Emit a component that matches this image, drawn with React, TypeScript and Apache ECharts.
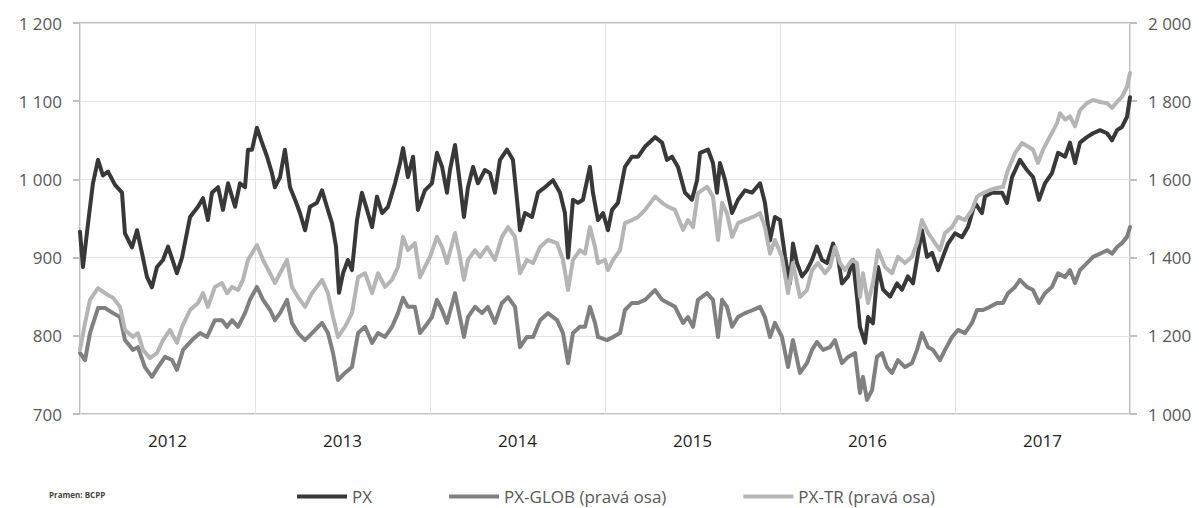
import React, { useEffect, useRef } from 'react';
import * as echarts from 'echarts';

// x = years elapsed since 1 Jan 2012 (0..6)
const YEARS = ['2012', '2013', '2014', '2015', '2016', '2017'];
const LEFT_TICKS = { min: 700, max: 1200, step: 100 };
const RIGHT_TICKS = { min: 1000, max: 2000, step: 200 };
const NAMES = ['PX', 'PX-GLOB (pravá osa)', 'PX-TR (pravá osa)'];
const SOURCE = 'Pramen: BCPP';

const PX: [number, number][] = [
  [0.000, 933], [0.017, 888], [0.046, 944], [0.074, 995], [0.103, 1025], [0.131, 1005], [0.160, 1010],
  [0.200, 993], [0.240, 983], [0.257, 931], [0.297, 913], [0.326, 935], [0.354, 906], [0.383, 875],
  [0.411, 862], [0.440, 888], [0.474, 897], [0.503, 914], [0.554, 880], [0.583, 900], [0.629, 952],
  [0.674, 965], [0.703, 976], [0.731, 948], [0.754, 983], [0.789, 990], [0.817, 961], [0.846, 995],
  [0.886, 965], [0.914, 995], [0.943, 990], [0.960, 1038], [0.983, 1038], [1.011, 1066], [1.040, 1047],
  [1.069, 1029], [1.097, 1008], [1.114, 990], [1.143, 1003], [1.171, 1038], [1.200, 990], [1.229, 974],
  [1.257, 957], [1.286, 935], [1.314, 965], [1.354, 970], [1.383, 986], [1.411, 965], [1.440, 944],
  [1.463, 914], [1.480, 855], [1.503, 880], [1.531, 897], [1.554, 884], [1.583, 948], [1.611, 983],
  [1.640, 961], [1.669, 939], [1.697, 978], [1.726, 957], [1.760, 965], [1.800, 995], [1.829, 1021],
  [1.846, 1040], [1.874, 1003], [1.903, 1029], [1.931, 961], [1.971, 986], [2.011, 995], [2.040, 1034],
  [2.069, 1016], [2.097, 983], [2.114, 1012], [2.143, 1044], [2.171, 995], [2.194, 952], [2.217, 990],
  [2.246, 1016], [2.274, 995], [2.314, 1012], [2.343, 1008], [2.371, 983], [2.400, 1025], [2.440, 1038],
  [2.474, 1025], [2.503, 961], [2.514, 935], [2.543, 957], [2.583, 952], [2.617, 983], [2.657, 990],
  [2.703, 999], [2.743, 983], [2.771, 957], [2.789, 900], [2.817, 974], [2.846, 970], [2.874, 974],
  [2.914, 1016], [2.931, 983], [2.960, 948], [2.989, 957], [3.017, 935], [3.040, 961], [3.074, 970],
  [3.114, 1016], [3.154, 1029], [3.189, 1029], [3.229, 1042], [3.286, 1054], [3.326, 1047], [3.354, 1025],
  [3.383, 1029], [3.417, 1016], [3.457, 983], [3.497, 974], [3.526, 999], [3.543, 1034], [3.589, 1038],
  [3.617, 1021], [3.640, 983], [3.657, 1021], [3.686, 999], [3.726, 957], [3.760, 974], [3.800, 986],
  [3.840, 983], [3.886, 995], [3.914, 970], [3.943, 922], [3.971, 952], [4.000, 948], [4.029, 901],
  [4.057, 867], [4.074, 918], [4.097, 893], [4.126, 876], [4.154, 884], [4.183, 897], [4.211, 914],
  [4.240, 897], [4.269, 893], [4.303, 918], [4.331, 901], [4.354, 867], [4.389, 876], [4.417, 897],
  [4.440, 850], [4.457, 811], [4.486, 791], [4.503, 824], [4.531, 816], [4.560, 888], [4.589, 859],
  [4.629, 850], [4.669, 867], [4.697, 859], [4.731, 876], [4.760, 867], [4.811, 935], [4.840, 901],
  [4.869, 906], [4.903, 884], [4.931, 901], [4.960, 918], [5.000, 931], [5.040, 926], [5.074, 939],
  [5.114, 970], [5.154, 957], [5.171, 978], [5.211, 983], [5.269, 983], [5.297, 970], [5.326, 1003],
  [5.371, 1025], [5.411, 1012], [5.446, 1003], [5.480, 974], [5.514, 995], [5.554, 1008], [5.589, 1034],
  [5.629, 1029], [5.657, 1047], [5.686, 1021], [5.714, 1047], [5.754, 1054], [5.789, 1059], [5.829, 1063],
  [5.869, 1059], [5.897, 1050], [5.926, 1063], [5.954, 1067], [5.983, 1080], [6.000, 1105],
];

const PX_GLOB: [number, number][] = [
  [0.000, 1156], [0.029, 1138], [0.057, 1207], [0.103, 1271], [0.143, 1271], [0.189, 1258], [0.229, 1248],
  [0.257, 1189], [0.303, 1164], [0.331, 1171], [0.371, 1120], [0.411, 1095], [0.446, 1120], [0.486, 1146],
  [0.526, 1138], [0.554, 1113], [0.589, 1164], [0.640, 1189], [0.686, 1207], [0.726, 1197], [0.771, 1240],
  [0.811, 1240], [0.840, 1223], [0.869, 1240], [0.903, 1223], [0.943, 1258], [0.971, 1292], [1.011, 1325],
  [1.046, 1292], [1.086, 1266], [1.114, 1240], [1.143, 1258], [1.183, 1292], [1.211, 1233], [1.246, 1207],
  [1.286, 1189], [1.326, 1207], [1.383, 1233], [1.417, 1207], [1.446, 1156], [1.474, 1087], [1.514, 1105],
  [1.554, 1120], [1.589, 1207], [1.629, 1223], [1.669, 1182], [1.703, 1207], [1.743, 1197], [1.783, 1223],
  [1.817, 1258], [1.846, 1297], [1.874, 1274], [1.914, 1274], [1.943, 1207], [1.971, 1223], [2.011, 1248],
  [2.040, 1292], [2.069, 1266], [2.097, 1233], [2.143, 1309], [2.171, 1248], [2.194, 1197], [2.217, 1248],
  [2.257, 1274], [2.297, 1258], [2.331, 1274], [2.371, 1233], [2.411, 1284], [2.446, 1299], [2.486, 1274],
  [2.514, 1171], [2.554, 1197], [2.589, 1197], [2.629, 1240], [2.674, 1258], [2.726, 1240], [2.760, 1207],
  [2.789, 1130], [2.817, 1207], [2.857, 1223], [2.886, 1223], [2.914, 1274], [2.943, 1233], [2.960, 1197],
  [3.011, 1189], [3.046, 1197], [3.086, 1207], [3.114, 1266], [3.154, 1284], [3.189, 1284], [3.229, 1292],
  [3.286, 1317], [3.326, 1292], [3.360, 1284], [3.400, 1274], [3.446, 1233], [3.474, 1248], [3.503, 1223],
  [3.531, 1292], [3.583, 1309], [3.617, 1292], [3.646, 1197], [3.669, 1292], [3.697, 1274], [3.726, 1223],
  [3.760, 1248], [3.800, 1258], [3.846, 1266], [3.886, 1274], [3.914, 1248], [3.943, 1197], [3.971, 1233],
  [4.011, 1197], [4.046, 1120], [4.074, 1189], [4.114, 1105], [4.154, 1130], [4.183, 1164], [4.211, 1184],
  [4.246, 1164], [4.286, 1171], [4.314, 1189], [4.354, 1130], [4.389, 1146], [4.429, 1156], [4.457, 1054],
  [4.474, 1095], [4.497, 1036], [4.526, 1061], [4.554, 1146], [4.583, 1156], [4.611, 1120], [4.640, 1105],
  [4.674, 1138], [4.714, 1120], [4.754, 1130], [4.783, 1164], [4.811, 1207], [4.846, 1171], [4.874, 1164],
  [4.914, 1138], [4.943, 1164], [4.983, 1197], [5.017, 1215], [5.057, 1207], [5.097, 1233], [5.126, 1266],
  [5.160, 1266], [5.200, 1274], [5.240, 1284], [5.274, 1284], [5.303, 1309], [5.343, 1325], [5.371, 1343],
  [5.411, 1325], [5.446, 1317], [5.480, 1284], [5.514, 1309], [5.554, 1325], [5.589, 1360], [5.629, 1350],
  [5.657, 1368], [5.686, 1335], [5.714, 1368], [5.754, 1386], [5.789, 1402], [5.829, 1410], [5.869, 1419],
  [5.897, 1410], [5.926, 1427], [5.954, 1437], [5.983, 1453], [6.000, 1478],
];

const PX_TR: [number, number][] = [
  [0.000, 1164], [0.029, 1233], [0.057, 1292], [0.103, 1322], [0.143, 1309], [0.189, 1297], [0.229, 1274],
  [0.257, 1215], [0.303, 1197], [0.331, 1207], [0.360, 1164], [0.400, 1143], [0.440, 1156], [0.474, 1189],
  [0.514, 1215], [0.554, 1182], [0.583, 1223], [0.629, 1266], [0.674, 1284], [0.703, 1309], [0.731, 1274],
  [0.771, 1325], [0.811, 1335], [0.840, 1309], [0.869, 1325], [0.903, 1317], [0.931, 1343], [0.960, 1394],
  [1.011, 1432], [1.046, 1394], [1.086, 1360], [1.114, 1335], [1.143, 1360], [1.183, 1394], [1.211, 1325],
  [1.246, 1299], [1.286, 1274], [1.326, 1309], [1.383, 1343], [1.417, 1309], [1.446, 1248], [1.474, 1197],
  [1.514, 1223], [1.554, 1258], [1.589, 1350], [1.629, 1360], [1.669, 1309], [1.703, 1360], [1.743, 1325],
  [1.783, 1343], [1.817, 1376], [1.846, 1453], [1.874, 1419], [1.914, 1437], [1.943, 1350], [1.971, 1376],
  [2.000, 1402], [2.040, 1453], [2.069, 1427], [2.097, 1386], [2.143, 1463], [2.171, 1402], [2.194, 1343],
  [2.217, 1394], [2.257, 1419], [2.286, 1402], [2.326, 1427], [2.371, 1394], [2.411, 1453], [2.446, 1478],
  [2.486, 1453], [2.514, 1360], [2.554, 1394], [2.589, 1386], [2.629, 1427], [2.674, 1445], [2.726, 1437],
  [2.760, 1394], [2.789, 1317], [2.817, 1394], [2.857, 1419], [2.886, 1410], [2.914, 1478], [2.943, 1427],
  [2.960, 1386], [3.000, 1394], [3.017, 1368], [3.046, 1394], [3.086, 1419], [3.114, 1488], [3.154, 1496],
  [3.189, 1504], [3.229, 1522], [3.286, 1556], [3.326, 1540], [3.360, 1530], [3.400, 1522], [3.446, 1471],
  [3.474, 1496], [3.503, 1478], [3.531, 1565], [3.583, 1581], [3.617, 1556], [3.646, 1445], [3.669, 1540],
  [3.697, 1514], [3.726, 1453], [3.760, 1488], [3.800, 1496], [3.846, 1504], [3.886, 1514], [3.914, 1478],
  [3.943, 1410], [3.971, 1445], [4.011, 1402], [4.046, 1309], [4.074, 1386], [4.114, 1299], [4.154, 1317],
  [4.183, 1368], [4.217, 1386], [4.257, 1360], [4.286, 1376], [4.314, 1427], [4.343, 1386], [4.371, 1368],
  [4.411, 1394], [4.440, 1386], [4.457, 1299], [4.474, 1360], [4.503, 1284], [4.531, 1335], [4.560, 1419],
  [4.600, 1376], [4.640, 1360], [4.674, 1402], [4.714, 1386], [4.754, 1402], [4.783, 1437], [4.811, 1496],
  [4.846, 1463], [4.886, 1437], [4.914, 1419], [4.943, 1463], [4.983, 1478], [5.017, 1504], [5.057, 1496],
  [5.097, 1522], [5.126, 1556], [5.160, 1565], [5.200, 1573], [5.240, 1578], [5.274, 1581], [5.303, 1624],
  [5.343, 1667], [5.383, 1693], [5.417, 1684], [5.446, 1676], [5.474, 1642], [5.503, 1676], [5.543, 1710],
  [5.583, 1744], [5.600, 1769], [5.629, 1753], [5.657, 1761], [5.686, 1736], [5.714, 1777], [5.754, 1795],
  [5.789, 1803], [5.829, 1798], [5.869, 1795], [5.897, 1783], [5.926, 1798], [5.954, 1811], [5.983, 1837],
  [6.000, 1872],
];

const COLORS = ['#383838', '#808080', '#b5b5b5'];
const FONT = '"Open Sans", "Noto Sans", sans-serif';

const fmt = (v: number) =>
  v >= 1000 ? `${Math.floor(v / 1000)} ${String(v % 1000).padStart(3, '0')}` : String(v);

export default function App() {
  const ref = useRef<HTMLDivElement>(null);
  useEffect(() => {
    const chart = echarts.init(ref.current!, null, { renderer: 'svg' });
    const tickStyle = { show: true, length: 7, lineStyle: { color: '#bfbfbf', width: 2 } };
    chart.setOption({
      animation: false,
      backgroundColor: '#ffffff',
      textStyle: { fontFamily: FONT },
      grid: {
        left: 80, right: 69, top: 23, bottom: 94,
        show: true, borderColor: '#bfbfbf', borderWidth: 2, backgroundColor: 'transparent',
      },
      legend: {
        data: NAMES,
        left: 292, top: 483,
        icon: 'rect', itemWidth: 50, itemHeight: 4, itemGap: 77,
        textStyle: { color: '#595959', fontSize: 17, fontFamily: FONT },
      },
      graphic: [
        {
          type: 'text', left: 49, top: 490,
          style: { text: SOURCE, fill: '#444', fontSize: 8, fontWeight: 'bold', fontFamily: FONT },
        },
      ],
      xAxis: [
        {
          type: 'value', min: 0, max: 6, interval: 1,
          axisLine: { show: false }, axisTick: { show: false }, axisLabel: { show: false },
          splitLine: { show: true, lineStyle: { color: '#e4e4e4', width: 1 } },
        },
        {
          type: 'category', data: YEARS, position: 'bottom', boundaryGap: true,
          axisLine: { show: false }, axisTick: { show: false }, splitLine: { show: false },
          axisLabel: { color: '#222', fontSize: 17, margin: 18, fontFamily: FONT },
        },
      ],
      yAxis: [
        {
          type: 'value', position: 'left',
          min: LEFT_TICKS.min, max: LEFT_TICKS.max, interval: LEFT_TICKS.step,
          axisLine: { show: false }, axisTick: tickStyle,
          axisLabel: { color: '#595959', fontSize: 17, margin: 18, formatter: fmt, fontFamily: FONT },
          splitLine: { show: true, lineStyle: { color: '#e4e4e4', width: 1 } },
        },
        {
          type: 'value', position: 'right',
          min: RIGHT_TICKS.min, max: RIGHT_TICKS.max, interval: RIGHT_TICKS.step,
          axisLine: { show: false }, axisTick: tickStyle,
          axisLabel: { color: '#595959', fontSize: 17, margin: 18, formatter: fmt, fontFamily: FONT },
          splitLine: { show: false },
        },
      ],
      series: [
        { name: NAMES[0], data: PX, yAxisIndex: 0, color: COLORS[0] },
        { name: NAMES[1], data: PX_GLOB, yAxisIndex: 1, color: COLORS[1] },
        { name: NAMES[2], data: PX_TR, yAxisIndex: 1, color: COLORS[2] },
      ].map((s) => ({
        ...s,
        type: 'line',
        xAxisIndex: 0,
        showSymbol: false,
        symbol: 'none',
        lineStyle: { width: 4, color: s.color, join: 'round', cap: 'round' },
        itemStyle: { color: s.color },
      })),
    });
    return () => chart.dispose();
  }, []);
  return (
    <div
      ref={ref}
      style={{ position: 'fixed', left: 0, top: 0, width: 1199, height: 508, background: '#fff' }}
    />
  );
}
